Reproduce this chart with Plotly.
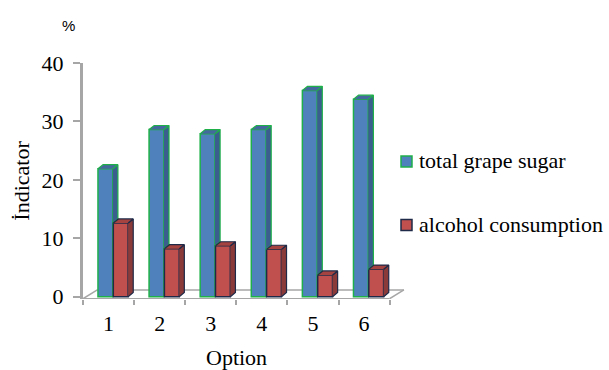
import plotly.graph_objects as go

# ---- data ----
options = [1, 2, 3, 4, 5, 6]
grape_sugar = [21.9, 28.6, 27.9, 28.6, 35.3, 33.8]
alcohol = [12.6, 8.2, 8.7, 8.1, 3.7, 4.7]
y_ticks = [0, 10, 20, 30, 40]
series_names = ["total grape sugar", "alcohol consumption"]

# ---- styling ----
SERIF = "Liberation Serif, Times New Roman, serif"
BLUE, BLUE_SIDE, BLUE_TOP, BLUE_EDGE = "#4f81bd", "#3a5f8e", "#44699c", "#1fb04a"
RED, RED_SIDE, RED_TOP, RED_EDGE = "#c0504d", "#8a3a38", "#a4433f", "#1f2a48"
GRID = "#a6a6a6"

W, H = 609, 370
M_L, M_R, M_T, M_B = 83, 10, 63, 71
PLOT_W = W - M_L - M_R
PLOT_H = H - M_T - M_B
X_PX = 51.1                     # pixels per category
X_SPAN = 324 / X_PX             # visible x extent of the axis (incl. floor depth)

BAR_W = 0.29
OFF_BLUE, OFF_RED = -0.207, 0.093
DDX, DDY = 0.10, 0.70          # depth of each column (x units, y units)
FLOOR_DX, FLOOR_DY = 0.28, 1.5  # depth of the floor
Y0 = -0.35                      # front edge of the floor


def px_x(p):
    return (p - M_L) / PLOT_W


def px_y(p):
    return 1 - (p - M_T) / PLOT_H


def side_faces(xs, tops, bottoms, x_right):
    px, py = [], []
    for x, top, bot in zip(xs, tops, bottoms):
        xr = x + x_right
        px += [xr, xr + DDX, xr + DDX, xr, None]
        py += [bot, bot + DDY, top + DDY, top, None]
    return px, py


def top_faces(xs, tops, x_left):
    px, py = [], []
    for x, top in zip(xs, tops):
        xl = x + x_left
        xr = xl + BAR_W
        px += [xl, xl + DDX, xr + DDX, xr, None]
        py += [top, top + DDY, top + DDY, top, None]
    return px, py


fig = go.Figure()

# front faces of the columns
fig.add_trace(go.Bar(
    x=options, y=grape_sugar, name=series_names[0], width=BAR_W, offset=OFF_BLUE,
    marker=dict(color=BLUE, line=dict(color=BLUE_EDGE, width=1.5)), showlegend=False))
fig.add_trace(go.Bar(
    x=options, y=alcohol, name=series_names[1], width=BAR_W, offset=OFF_RED,
    marker=dict(color=RED, line=dict(color=RED_EDGE, width=1.5)), showlegend=False))

# depth faces: the blue side is only visible above the red column next to it
bx, by = side_faces(options, grape_sugar, alcohol, OFF_BLUE + BAR_W)
fig.add_trace(go.Scatter(x=bx, y=by, fill="toself", fillcolor=BLUE_SIDE, mode="lines",
                         line=dict(color=BLUE_EDGE, width=1.2), showlegend=False, hoverinfo="skip"))
tx, ty = top_faces(options, grape_sugar, OFF_BLUE)
fig.add_trace(go.Scatter(x=tx, y=ty, fill="toself", fillcolor=BLUE_TOP, mode="lines",
                         line=dict(color=BLUE_EDGE, width=1.2), showlegend=False, hoverinfo="skip"))
rx, ry = side_faces(options, alcohol, [0] * len(alcohol), OFF_RED + BAR_W)
fig.add_trace(go.Scatter(x=rx, y=ry, fill="toself", fillcolor=RED_SIDE, mode="lines",
                         line=dict(color=RED_EDGE, width=1.2), showlegend=False, hoverinfo="skip"))
tx, ty = top_faces(options, alcohol, OFF_RED)
fig.add_trace(go.Scatter(x=tx, y=ty, fill="toself", fillcolor=RED_TOP, mode="lines",
                         line=dict(color=RED_EDGE, width=1.2), showlegend=False, hoverinfo="skip"))

# floor outline
x_lo, x_hi = options[0] - 0.5, options[-1] + 0.5
floor = [
    (x_lo, Y0, x_hi, Y0),
    (x_lo, Y0, x_lo + FLOOR_DX, Y0 + FLOOR_DY),
    (x_lo + FLOOR_DX, Y0 + FLOOR_DY, x_hi + FLOOR_DX, Y0 + FLOOR_DY),
    (x_hi, Y0, x_hi + FLOOR_DX, Y0 + FLOOR_DY),
]
for x0, y0, x1, y1 in floor:
    fig.add_shape(type="line", x0=x0, y0=y0, x1=x1, y1=y1, xref="x", yref="y",
                  line=dict(color=GRID, width=1.5), layer="below")

# legend keys (square swatch + label) placed to the right of the plot
legend_rows = [
    (series_names[0], BLUE, BLUE_EDGE, 161.5),
    (series_names[1], RED, RED_EDGE, 225.0),
]
annotations = []
for label, fill, edge, y_px in legend_rows:
    fig.add_shape(type="rect", xref="paper", yref="paper",
                  x0=px_x(401), x1=px_x(412), y0=px_y(y_px + 5.5), y1=px_y(y_px - 5.5),
                  fillcolor=fill, line=dict(color=edge, width=1.5))
    annotations.append(dict(text=label, x=px_x(417), xref="paper", y=px_y(y_px - 1),
                            yref="paper", xanchor="left", yanchor="middle", showarrow=False,
                            font=dict(family=SERIF, size=22, color="black")))

annotations += [
    dict(text="Option", x=3.5, xref="x", y=px_y(357), yref="paper", xanchor="center",
         yanchor="middle", showarrow=False, font=dict(family=SERIF, size=22, color="black")),
    dict(text="%", x=px_x(68), xref="paper", y=px_y(25), yref="paper",
         xanchor="center", yanchor="middle", showarrow=False,
         font=dict(family="Liberation Sans", size=15, color="black")),
]

fig.update_layout(
    width=W, height=H,
    margin=dict(l=M_L, r=M_R, t=M_T, b=M_B),
    paper_bgcolor="white", plot_bgcolor="white",
    barmode="overlay",
    font=dict(family=SERIF, size=22, color="black"),
    showlegend=False,
    xaxis=dict(
        domain=[0, 324 / PLOT_W], automargin=False,
        range=[0.5, 0.5 + X_SPAN], tickvals=options, ticktext=[str(o) for o in options],
        ticks="", showgrid=False, zeroline=False, showline=False, ticklabelstandoff=9,
        tickfont=dict(family=SERIF, size=22, color="black"),
        minor=dict(tickvals=[o - 0.5 for o in options] + [options[-1] + 0.5],
                   ticks="outside", ticklen=5, tickcolor=GRID, tickwidth=1.5, showgrid=False),
    ),
    yaxis=dict(
        range=[-0.4, 40], tickvals=y_ticks, showgrid=False, zeroline=False, automargin=False,
        showline=True, linecolor=GRID, linewidth=3, ticks="outside", ticklen=7,
        tickcolor=GRID, tickwidth=1.5, ticklabelstandoff=5,
        tickfont=dict(family=SERIF, size=22, color="black"),
        title=dict(text="İndicator", font=dict(family=SERIF, size=22, color="black"), standoff=6),
    ),
    annotations=annotations,
)

fig.write_html("out.html")
